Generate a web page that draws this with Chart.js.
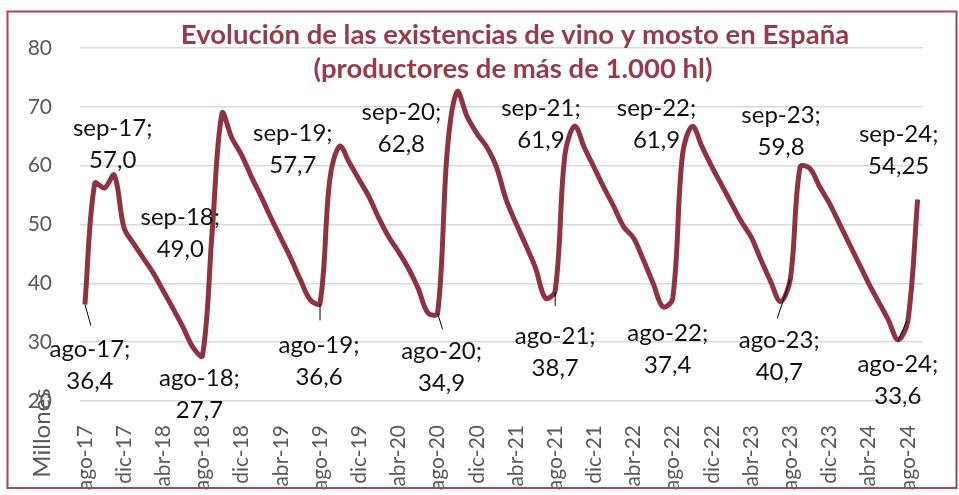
<!DOCTYPE html>
<html>
<head>
<meta charset="utf-8">
<script src="https://cdn.jsdelivr.net/npm/chart.js@4"></script>
<style>html,body{margin:0;background:#fff}</style>
</head>
<body>
<canvas id="grafico" width="959" height="495"></canvas>
<script>
// existencias mensuales (millones de hl), ago-17 .. sep-24
const meses = ['ene','feb','mar','abr','may','jun','jul','ago','sep','oct','nov','dic'];
const existencias = [
  36.4, 57.0, 56.2, 58.4, 49.4, 46.7, 44.2, 41.7, 38.7, 35.7, 32.6, 29.2,
  27.7, 49.0, 68.9, 64.7, 61.8, 58.1, 54.7, 51.1, 47.7, 44.3, 40.6, 37.2,
  36.6, 57.7, 63.3, 60.5, 57.6, 54.7, 51.1, 47.9, 45.4, 42.6, 39.2, 35.0,
  34.9, 62.8, 72.6, 68.4, 65.5, 63.2, 59.8, 54.2, 50.2, 46.5, 42.6, 37.5,
  38.7, 61.9, 66.7, 63.0, 59.6, 56.2, 53.0, 49.6, 47.7, 44.0, 40.0, 36.0,
  37.4, 61.9, 66.7, 63.2, 59.8, 56.7, 53.6, 50.5, 47.9, 44.0, 40.3, 36.9,
  40.7, 59.8, 59.5, 56.4, 53.6, 50.2, 46.8, 43.4, 40.0, 36.9, 33.8, 30.4,
  33.6, 54.25
];
const etiquetas = existencias.map((_, i) => meses[(7 + i) % 12] + '-' + (17 + Math.floor((7 + i) / 12)));
const puntosSep = [1, 13, 25, 37, 49, 61, 73, 85];
const puntosAgo = [0, 12, 24, 36, 48, 60, 72, 84];

// desplazamientos de las etiquetas respecto al punto (px)
const despSep = [[18,-55.5],[-32,-13],[-37,-46],[-46,-36.5],[-24,-46.5],[-26,-46.5],[-19,-51.5],[-19,-65]];
const despAgo = [[5,44.5],[-3,22.5],[-1,41.5],[4,37.5],[0,45.5],[-5,34.5],[-11,61.5],[-10,43]];
const guias = [[0,0,6,21],null,[0,1,0,17],[0,0,5,16],[0,1,0,15],null,[0,0,-13,39],[-1,0,-10,20]];

const rojo = '#8f3343';
const fmt = v => (Number.isInteger(Math.round(v * 100) / 10) ? v.toFixed(1) : v.toFixed(2)).replace('.', ',');

const decorado = {
  id: 'decorado',
  beforeDraw(chart) {
    const c = chart.ctx;
    c.save();
    c.fillStyle = '#fff';
    c.fillRect(0, 0, chart.width, chart.height);
    c.restore();
  },
  afterDraw(chart) {
    const c = chart.ctx, x = chart.scales.x, y = chart.scales.y;
    c.save();
    c.font = '24px Lato';
    c.fillStyle = '#111';
    c.textAlign = 'center';
    c.textBaseline = 'middle';
    const etiqueta = (i, d) => {
      const px = x.getPixelForValue(i), py = y.getPixelForValue(existencias[i]);
      c.fillText(etiquetas[i] + ';', px + d[0], py + d[1]);
      c.fillText(fmt(existencias[i]), px + d[0], py + d[1] + 32);
    };
    puntosSep.forEach((i, k) => etiqueta(i, despSep[k]));
    puntosAgo.forEach((i, k) => etiqueta(i, despAgo[k]));
    c.strokeStyle = '#000';
    c.lineWidth = 1;
    puntosAgo.forEach((i, k) => {
      const g = guias[k];
      if (!g) return;
      const px = x.getPixelForValue(i), py = y.getPixelForValue(existencias[i]);
      c.beginPath();
      c.moveTo(px + g[0], py + g[1]);
      c.lineTo(px + g[2], py + g[3]);
      c.stroke();
    });

    // título
    c.fillStyle = '#973a4c';
    c.font = 'bold 27.5px Lato';
    c.fillText('Evolución de las existencias de vino y mosto en España', 515, 35);
    c.fillText('(productores de más de 1.000 hl)', 513, 69);

    // eje
    c.fillStyle = '#595959';
    c.font = '24px Lato';
    c.translate(42, 433);
    c.rotate(-Math.PI / 2);
    c.fillText('Millones', 0, 0);
    c.restore();

    c.save();
    c.strokeStyle = '#a3475a';
    c.lineWidth = 2;
    c.strokeRect(7.5, 11.5, 949, 476.5);
    c.restore();
  }
};

new Chart(document.getElementById('grafico'), {
  type: 'line',
  data: {
    labels: etiquetas,
    datasets: [{
      data: existencias,
      borderColor: rojo,
      borderWidth: 5,
      pointRadius: 0,
      tension: 0.35,
      fill: false
    }]
  },
  options: {
    responsive: false,
    animation: false,
    layout: { padding: { top: 48, right: 25, left: 0, bottom: 0 } },
    plugins: { legend: { display: false }, tooltip: { enabled: false } },
    scales: {
      x: {
        offset: true,
        afterFit: s => { s.height = 94; },
        grid: { display: false },
        border: { display: false },
        ticks: {
          autoSkip: false,
          minRotation: 90,
          maxRotation: 90,
          padding: 16,
          color: '#595959',
          font: { family: 'Lato', size: 21 },
          callback: (v, i) => (i % 4 === 0 ? etiquetas[i] : '')
        }
      },
      y: {
        min: 20,
        max: 80,
        afterFit: s => { s.width = 80; },
        border: { display: false },
        grid: { color: '#d9d9d9', lineWidth: 1.5, drawTicks: false },
        ticks: {
          stepSize: 10,
          padding: 28,
          color: '#595959',
          font: { family: 'Lato', size: 21 }
        }
      }
    }
  },
  plugins: [decorado]
});
</script>
</body>
</html>
